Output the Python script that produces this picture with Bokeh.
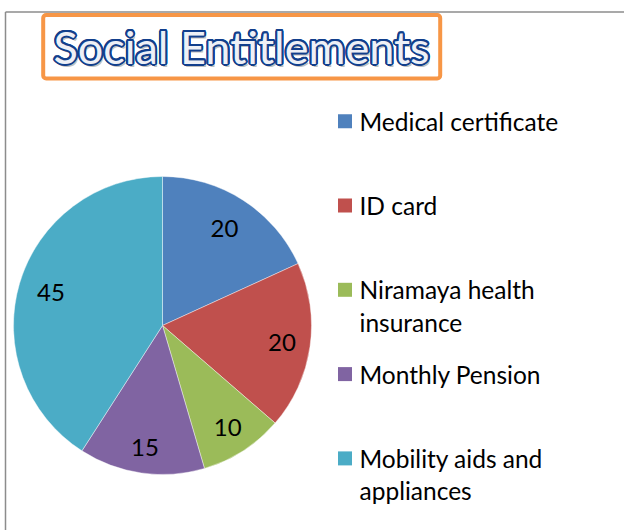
import math
from bokeh.plotting import figure
from bokeh.models import ColumnDataSource, BoxAnnotation, Range1d
from bokeh.core.properties import value
from bokeh.embed import file_html
from bokeh.resources import INLINE

# ---- data ----
categories = ["Medical certificate", "ID card", "Niramaya health insurance",
              "Monthly Pension", "Mobility aids and appliances"]
legend_lines = [["Medical certificate"], ["ID card"], ["Niramaya health", "insurance"],
                ["Monthly Pension"], ["Mobility aids and", "appliances"]]
values = [20, 20, 10, 15, 45]
colors = ["#4F81BD", "#C0504D", "#9BBB59", "#8064A2", "#4BACC6"]
title_text = "Social Entitlements"

# ---- layout ----
W, H = 624, 530
FONT = "Lato"
cx, cy_px, R = 162, 325, 149
label_r = [0.77, 0.81, 0.81, 0.83, 0.78]

def Y(px):
    return H - px

p = figure(width=W, height=H, output_backend="svg", toolbar_location=None,
           x_range=Range1d(0, W), y_range=Range1d(0, H), min_border=0)
p.axis.visible = False
p.grid.visible = False
p.outline_line_color = None
p.background_fill_color = "white"
p.border_fill_color = "white"

# outer frame (partially visible)
p.segment(x0=[5, 5], y0=[Y(11.5), Y(11.5)], x1=[W + 5, 5], y1=[Y(11.5), -5],
          line_color="#8C8C8C", line_width=1.5)

# pie
total = sum(values)
starts, ends, mids = [], [], []
a = math.pi / 2
for v in values:
    span = 2 * math.pi * v / total
    starts.append(a)
    ends.append(a - span)
    mids.append(a - span / 2)
    a -= span

src = ColumnDataSource(dict(start=starts, end=ends, color=colors,
                            x=[cx] * len(values), y=[Y(cy_px)] * len(values)))
p.wedge(x="x", y="y", radius=R, start_angle="start", end_angle="end",
        direction="clock", fill_color="color", line_color="white",
        line_width=0.6, line_alpha=0.7, source=src)

lx = [cx + R * f * math.cos(m) for f, m in zip(label_r, mids)]
ly = [Y(cy_px) + R * f * math.sin(m) for f, m in zip(label_r, mids)]
p.text(x=lx, y=ly, text=[str(v) for v in values], text_font=value(FONT),
       text_font_size="24px", text_color="black", text_align="center",
       text_baseline="middle")

# legend
sq_x, txt_x = 344.5, 359
row0, row_step, line_step = 120.7, 84.3, 32.5
sq_y = [Y(row0 + i * row_step) for i in range(len(categories))]
p.rect(x=[sq_x] * len(categories), y=sq_y, width=14, height=14,
       fill_color=colors, line_color=None)
tx, ty, tt = [], [], []
for i, lines in enumerate(legend_lines):
    for j, s in enumerate(lines):
        tx.append(txt_x)
        ty.append(Y(row0 + i * row_step + j * line_step))
        tt.append(s)
p.text(x=tx, y=ty, text=tt, text_font=value(FONT), text_font_size="24.5px",
       text_color="black", text_align="left", text_baseline="middle")

# title box
p.add_layout(BoxAnnotation(left=42.7, right=439.7, top=Y(14.5), bottom=Y(78),
                           fill_color="white", fill_alpha=1.0,
                           line_color="#F79646", line_alpha=1.0, line_width=4,
                           border_radius=3, level="underlay"))
tcx, tby = 241, Y(46)
TS = "45px"
# shadow
p.text(x=[tcx], y=[tby], text=[title_text], x_offset=2, y_offset=3,
       text_font=value(FONT), text_font_size=TS, text_color="#7F7F7F",
       text_alpha=0.5, text_align="center", text_baseline="alphabetic")
# outline
for k in range(16):
    ang = 2 * math.pi * k / 16
    p.text(x=[tcx], y=[tby], text=[title_text],
           x_offset=2.0 * math.cos(ang), y_offset=2.0 * math.sin(ang),
           text_font=value(FONT), text_font_size=TS, text_color="#123F8C",
           text_align="center", text_baseline="alphabetic")
p.text(x=[tcx], y=[tby], text=[title_text], text_font=value(FONT),
       text_font_size=TS, text_color="#EEF0F6", text_align="center",
       text_baseline="alphabetic")

open("out.html", "w").write(file_html(p, INLINE))
